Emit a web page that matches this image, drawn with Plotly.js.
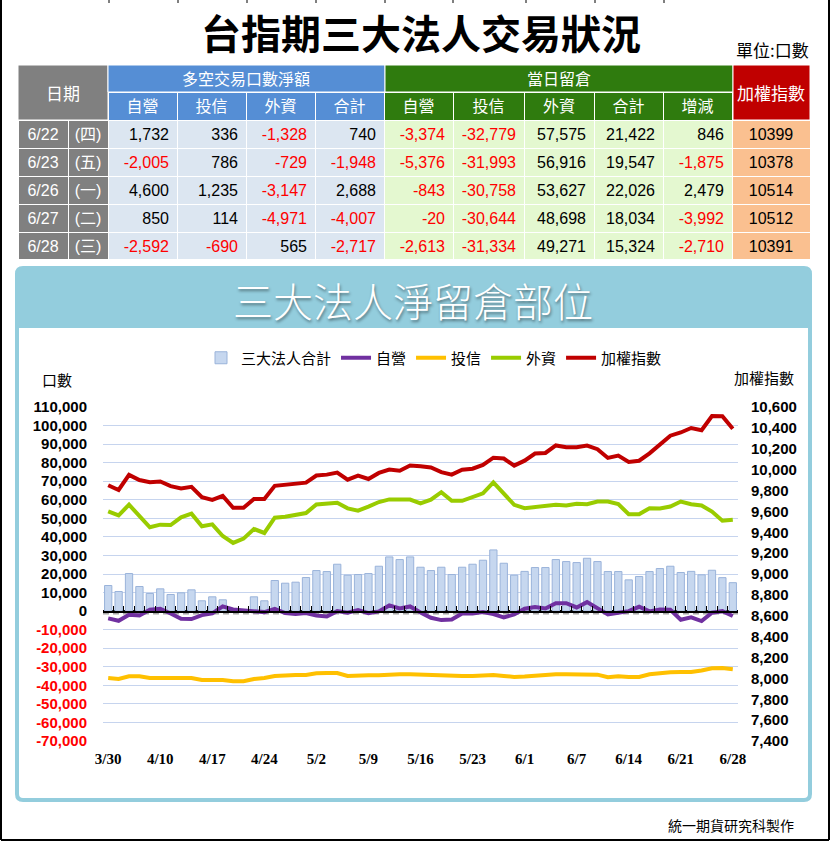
<!DOCTYPE html>
<html><head><meta charset="utf-8">
<script src="https://cdn.plot.ly/plotly-3.0.1.min.js"></script>
<style>html,body{margin:0;padding:0;background:#fff;}#chart{width:832px;height:842px;}</style>
</head><body><div id="chart"></div>
<script>
// ---------- chart data ----------
const dates = ['3/30','3/31','4/5','4/6','4/7','4/10','4/11','4/12','4/13','4/14','4/17','4/18','4/19','4/20','4/21','4/24','4/25','4/26','4/27','4/28','5/2','5/3','5/4','5/5','5/8','5/9','5/10','5/11','5/12','5/15','5/16','5/17','5/18','5/19','5/22','5/23','5/24','5/25','5/26','5/31','6/1','6/2','6/3','6/5','6/6','6/7','6/8','6/9','6/12','6/13','6/14','6/15','6/16','6/19','6/20','6/21','6/22','6/23','6/26','6/27','6/28'];
const totalOI = [13800,10570,20250,13260,9500,12000,8960,9860,11470,5560,7700,6090,-200,300,7700,5560,16490,15050,15590,18100,21860,21320,25270,19350,19710,20250,24190,29210,27780,29210,23650,21860,23650,19710,23650,25270,27420,32970,25800,19350,21400,23480,23480,27780,26700,26160,28490,26700,21320,21320,16840,18640,21320,22940,24190,20790,21422,19547,22026,18034,15324];
const dealerOI = [-3940,-5200,-1970,-2330,720,1250,-1250,-4120,-4300,-2150,-1250,2510,900,540,360,-540,1250,-1080,-1610,-1080,-2400,-2870,0,-900,540,-1080,-180,3050,1430,2510,-720,-3580,-4840,-4480,-1250,-1250,-540,-1610,-3400,-1790,1250,2150,1430,4300,4300,1970,4840,1430,-1790,-900,0,2330,-180,900,720,-4660,-3374,-5376,-843,-20,-2613];
const trustOI = [-36020,-36560,-35120,-35120,-36020,-36020,-36020,-36560,-36020,-37090,-37090,-37090,-37810,-37810,-36560,-36020,-34940,-34410,-34410,-34410,-33500,-33330,-33330,-34940,-34590,-34590,-34590,-34050,-34050,-34050,-34230,-34590,-34940,-34940,-34940,-34940,-34760,-34410,-34940,-35480,-35300,-34760,-34230,-34050,-34050,-34050,-34050,-34230,-35660,-35120,-35480,-35480,-34050,-33330,-32970,-32790,-32779,-31993,-30758,-30644,-31334];
const foreignOI = [53760,51610,57340,51250,45160,46590,46410,50530,52500,45700,46770,40500,36740,39070,44260,42110,50360,50890,51790,52860,57500,58060,58420,55370,54120,56270,58780,60210,60210,60100,58100,60100,64100,59450,59450,61700,63500,69400,63500,57300,55500,56030,56570,57270,56900,57810,57650,59060,59060,57650,52260,52260,55490,55280,56360,59060,57575,56916,53627,48698,49271];
const taiex = [9850,9805,9950,9900,9880,9886,9842,9819,9835,9735,9710,9748,9635,9635,9719,9719,9845,9855,9867,9875,9943,9952,9971,9904,9942,9910,9968,10000,9990,10040,10032,10020,9976,9952,9999,10009,10045,10114,10106,10038,10086,10154,10160,10232,10215,10214,10231,10196,10112,10134,10073,10085,10156,10243,10325,10356,10399,10378,10514,10512,10391];
const leftTickVals = [110000,100000,90000,80000,70000,60000,50000,40000,30000,20000,10000,0,-10000,-20000,-30000,-40000,-50000,-60000,-70000];
const rightTickVals = [10600,10400,10200,10000,9800,9600,9400,9200,9000,8800,8600,8400,8200,8000,7800,7600,7400];
const seriesNames = ['三大法人合計','自營','投信','外資','加權指數'];

// ---------- table data ----------
const tblDates = ['6/22','6/23','6/26','6/27','6/28'];
const tblWeekdays = ['(四)','(五)','(一)','(二)','(三)'];
const netDealer = [1732,-2005,4600,850,-2592];
const netTrust = [336,786,1235,114,-690];
const netForeign = [-1328,-729,-3147,-4971,565];
const netTotal = [740,-1948,2688,-4007,-2717];
const oiDealer = [-3374,-5376,-843,-20,-2613];
const oiTrust = [-32779,-31993,-30758,-30644,-31334];
const oiForeign = [57575,56916,53627,48698,49271];
const oiTotal = [21422,19547,22026,18034,15324];
const oiChange = [846,-1875,2479,-3992,-2710];
const tblIndex = [10399,10378,10514,10512,10391];
const subHeaders = ['自營','投信','外資','合計','自營','投信','外資','合計','增減'];

// ---------- helpers ----------
const W = 832, H = 842;
const X = px => px / W;
const Y = py => 1 - py / H;
const fmt = n => String(n).replace(/\B(?=(\d{3})+(?!\d))/g, ',');
const CJK = '"Noto Sans CJK TC", "Noto Sans CJK SC", sans-serif';
const SANS = '"Liberation Sans", Arial, "Noto Sans CJK TC", sans-serif';
const SERIF = '"Liberation Serif", "Times New Roman", serif';
const RED = '#ff0000';

function roundRectPath(x0, y0, x1, y1, r, roundBottom) {
  const p = [];
  p.push('M' + X(x0 + r) + ',' + Y(y0));
  p.push('L' + X(x1 - r) + ',' + Y(y0));
  p.push('Q' + X(x1) + ',' + Y(y0) + ' ' + X(x1) + ',' + Y(y0 + r));
  if (roundBottom) {
    p.push('L' + X(x1) + ',' + Y(y1 - r));
    p.push('Q' + X(x1) + ',' + Y(y1) + ' ' + X(x1 - r) + ',' + Y(y1));
    p.push('L' + X(x0 + r) + ',' + Y(y1));
    p.push('Q' + X(x0) + ',' + Y(y1) + ' ' + X(x0) + ',' + Y(y1 - r));
  } else {
    p.push('L' + X(x1) + ',' + Y(y1));
    p.push('L' + X(x0) + ',' + Y(y1));
  }
  p.push('L' + X(x0) + ',' + Y(y0 + r));
  p.push('Q' + X(x0) + ',' + Y(y0) + ' ' + X(x0 + r) + ',' + Y(y0));
  p.push('Z');
  return p.join(' ');
}

// ---------- table trace ----------
const numCols = [netDealer, netTrust, netForeign, netTotal, oiDealer, oiTrust, oiForeign, oiTotal, oiChange];
const cellValues = [tblDates, tblWeekdays].concat(numCols.map(c => c.map(fmt))).concat([tblIndex.map(String)]);
const cellFontColors = [tblDates.map(() => '#ffffff'), tblWeekdays.map(() => '#ffffff')]
  .concat(numCols.map(c => c.map(v => v < 0 ? RED : '#000000')))
  .concat([tblIndex.map(() => '#000000')]);
const GREY = '#808080', BLUE_H = '#558ed5', GREEN_H = '#2f7b0e', RED_H = '#c00000';
const BLUE_C = '#dce6f1', GREEN_C = '#e4f8d0', ORANGE_C = '#fac090';

const tableTrace = {
  type: 'table',
  domain: {x: [X(18), X(810)], y: [Y(260), Y(92)]},
  columnwidth: [50, 40, 69, 69, 69, 69, 69, 71, 70, 69, 69, 78],
  header: {
    values: [''].concat(['']).concat(subHeaders).concat(['']),
    height: 28,
    align: 'center',
    fill: {color: [GREY, GREY, BLUE_H, BLUE_H, BLUE_H, BLUE_H, GREEN_H, GREEN_H, GREEN_H, GREEN_H, GREEN_H, RED_H]},
    line: {color: '#ffffff', width: 1},
    font: {family: CJK, size: 16, color: '#ffffff'}
  },
  cells: {
    values: cellValues,
    height: 28,
    align: ['center', 'center', 'right', 'right', 'right', 'right', 'right', 'right', 'right', 'right', 'right', 'center'],
    fill: {color: [GREY, GREY, BLUE_C, BLUE_C, BLUE_C, BLUE_C, GREEN_C, GREEN_C, GREEN_C, GREEN_C, GREEN_C, ORANGE_C]},
    line: {color: '#ffffff', width: 1},
    font: {family: SANS, size: 16, color: cellFontColors}
  }
};

// ---------- chart traces ----------
const yMin = -70000, yMax = 110000;
const yDom = [Y(741), Y(407)];
const zeroPos = yDom[0] + (0 - yMin) / (yMax - yMin) * (yDom[1] - yDom[0]);

const traces = [
  tableTrace,
  {type: 'bar', name: seriesNames[0], x: dates, y: totalOI, xaxis: 'x', yaxis: 'y',
   marker: {color: '#c6d7ef', line: {color: '#9ab3da', width: 1}}, hoverinfo: 'skip'},
  {type: 'scatter', mode: 'lines', name: seriesNames[1], x: dates, y: dealerOI, xaxis: 'x', yaxis: 'y',
   line: {color: '#7030a0', width: 4}, hoverinfo: 'skip'},
  {type: 'scatter', mode: 'lines', name: seriesNames[2], x: dates, y: trustOI, xaxis: 'x', yaxis: 'y',
   line: {color: '#ffc000', width: 4}, hoverinfo: 'skip'},
  {type: 'scatter', mode: 'lines', name: seriesNames[3], x: dates, y: foreignOI, xaxis: 'x', yaxis: 'y',
   line: {color: '#99cc00', width: 4}, hoverinfo: 'skip'},
  {type: 'scatter', mode: 'lines', name: seriesNames[4], x: dates, y: taiex, xaxis: 'x', yaxis: 'y2',
   line: {color: '#c00000', width: 4}, hoverinfo: 'skip'},
  {type: 'scatter', mode: 'lines', x: dates, y: dates.map(() => null), xaxis: 'x2', yaxis: 'y',
   showlegend: false, hoverinfo: 'skip'}
];

const leftTickText = leftTickVals.map(v => v < 0 ? '<span style="color:#ff0000">' + fmt(v) + '</span>' : fmt(v));
const rightTickText = rightTickVals.map(fmt);
const catRange = [-0.5, dates.length - 0.5];

// ---------- shapes ----------
const shapes = [
  {type: 'path', xref: 'paper', yref: 'paper', path: roundRectPath(17, 268, 810, 800, 6, true),
   fillcolor: '#ffffff', line: {color: '#93cddd', width: 4}, layer: 'below'},
  {type: 'path', xref: 'paper', yref: 'paper', path: roundRectPath(17, 268, 810, 328, 6, false),
   fillcolor: '#93cddd', line: {width: 0}, layer: 'below'},
  {type: 'line', xref: 'paper', yref: 'y', x0: X(103), x1: X(738), y0: -1300, y1: -1300,
   line: {color: '#a6a6a6', width: 2, dash: '6px,4px'}, layer: 'below'},
  {type: 'rect', xref: 'paper', yref: 'paper', x0: X(18), x1: X(108), y0: Y(120), y1: Y(65),
   fillcolor: GREY, line: {color: '#ffffff', width: 1}},
  {type: 'rect', xref: 'paper', yref: 'paper', x0: X(108), x1: X(385), y0: Y(92), y1: Y(65),
   fillcolor: BLUE_H, line: {color: '#ffffff', width: 1}},
  {type: 'rect', xref: 'paper', yref: 'paper', x0: X(385), x1: X(733), y0: Y(92), y1: Y(65),
   fillcolor: GREEN_H, line: {color: '#ffffff', width: 1}},
  {type: 'rect', xref: 'paper', yref: 'paper', x0: X(733), x1: X(810), y0: Y(120), y1: Y(65),
   fillcolor: RED_H, line: {color: '#ffffff', width: 1}},
  {type: 'line', xref: 'paper', yref: 'paper', x0: X(1), x1: X(1), y0: Y(0), y1: Y(840), line: {color: '#000', width: 2}},
  {type: 'line', xref: 'paper', yref: 'paper', x0: X(829), x1: X(829), y0: Y(0), y1: Y(840), line: {color: '#000', width: 2}},
  {type: 'line', xref: 'paper', yref: 'paper', x0: X(1), x1: X(829), y0: Y(840), y1: Y(840), line: {color: '#000', width: 2}}
];
[109, 178, 247, 316, 385, 453, 526, 595, 664].forEach(px => {
  shapes.push({type: 'line', xref: 'paper', yref: 'paper', x0: X(px), x1: X(px), y0: Y(0), y1: Y(3),
    line: {color: '#000', width: 1}});
});

// ---------- annotations ----------
const ann = (text, px, py, size, opts) => Object.assign({
  text: text, xref: 'paper', yref: 'paper', x: X(px), y: Y(py), showarrow: false,
  xanchor: 'center', yanchor: 'middle', font: {family: CJK, size: size, color: '#000'}
}, opts || {});
const annotations = [
  ann('台指期三大法人交易狀況', 421, 32, 40, {font: {family: CJK, size: 40, color: '#000', weight: 700}}),
  ann('單位:口數', 811, 50, 17, {xanchor: 'right'}),
  ann('日期', 63, 92, 17, {font: {family: CJK, size: 17, color: '#ffffff'}}),
  ann('多空交易口數淨額', 246, 78, 16, {font: {family: CJK, size: 16, color: '#ffffff'}}),
  ann('當日留倉', 559, 78, 16, {font: {family: CJK, size: 16, color: '#ffffff'}}),
  ann('加權指數', 771, 92, 17, {font: {family: CJK, size: 17, color: '#ffffff'}}),
  ann('三大法人淨留倉部位', 413, 300, 40, {font: {family: CJK, size: 40, color: '#ffffff', weight: 300, shadow: '1px 2px 3px rgba(0,0,0,0.45)'}}),
  ann('口數', 57, 380, 15),
  ann('加權指數', 764, 378, 15),
  ann('統一期貨研究科製作', 731, 825, 14)
];

const layout = {
  width: W, height: H, autosize: false,
  margin: {l: 0, r: 0, t: 0, b: 0, pad: 0},
  paper_bgcolor: '#ffffff', plot_bgcolor: 'rgba(0,0,0,0)',
  showlegend: true,
  legend: {orientation: 'h', x: X(434), xanchor: 'center', y: Y(358), yanchor: 'middle',
           font: {family: CJK, size: 15, color: '#000'}, bgcolor: 'rgba(0,0,0,0)', traceorder: 'normal'},
  bargap: 0.3,
  xaxis: {domain: [X(103), X(738)], type: 'category', range: catRange, anchor: 'y',
          tickmode: 'linear', tick0: 0, dtick: 5, showgrid: false, zeroline: false, showline: false, ticks: '',
          tickfont: {family: SERIF, size: 15, color: '#000', weight: 'bold'}, ticklabelstandoff: 7, fixedrange: true},
  xaxis2: {type: 'category', overlaying: 'x', range: catRange, anchor: 'free', position: zeroPos,
           showline: true, linecolor: '#000', linewidth: 1.5, ticks: 'inside', tickson: 'boundaries',
           ticklen: 5, tickwidth: 1, tickcolor: '#000', tickmode: 'linear', tick0: 0, dtick: 1,
           showticklabels: false, showgrid: false, zeroline: false, fixedrange: true},
  yaxis: {domain: yDom, range: [yMin, yMax], anchor: 'x', tickmode: 'array', tickvals: leftTickVals, ticktext: leftTickText,
          showgrid: true, gridcolor: '#c6d4ee', gridwidth: 1, zeroline: true, zerolinecolor: '#000', zerolinewidth: 1.5,
          showline: false, ticks: '', ticklabelstandoff: 15,
          tickfont: {family: SANS, size: 15, color: '#000', weight: 'bold'}, fixedrange: true},
  yaxis2: {overlaying: 'y', side: 'right', anchor: 'x', range: [7400, 10600], tickmode: 'array',
           tickvals: rightTickVals, ticktext: rightTickText, showgrid: false, zeroline: false, showline: false,
           ticks: '', ticklabelstandoff: 12,
           tickfont: {family: SANS, size: 15, color: '#000', weight: 'bold'}, fixedrange: true},
  shapes: shapes,
  annotations: annotations
};

Plotly.newPlot('chart', traces, layout, {staticPlot: true, displayModeBar: false});
</script>
</body></html>
